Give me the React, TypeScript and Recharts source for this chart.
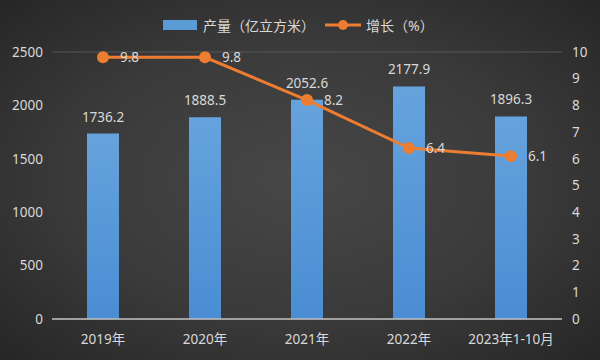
import React from 'react';
import { ComposedChart, Bar, Line, XAxis, YAxis, CartesianGrid, LabelList } from 'recharts';

const categories = ['2019年', '2020年', '2021年', '2022年', '2023年1-10月'];
const output = [1736.2, 1888.5, 2052.6, 2177.9, 1896.3];
const growth = [9.8, 9.8, 8.2, 6.4, 6.1];
const leftTicks = [0, 500, 1000, 1500, 2000, 2500];
const rightTicks = [0, 1, 2, 3, 4, 5, 6, 7, 8, 9, 10];

const data = categories.map((c, i) => ({ name: c, output: output[i], growth: growth[i] }));

const FONT = '"Microsoft YaHei", "Noto Sans", "Noto Sans CJK SC", sans-serif';
const TXT = '#d9d9d9';

const LegendBox = () => (
  <div style={{ position: 'absolute', left: 163, top: 15, display: 'flex', alignItems: 'center', fontFamily: FONT, fontSize: 14, color: TXT, zIndex: 2, whiteSpace: 'nowrap' }}>
    <span style={{ display: 'inline-block', width: 34, height: 10, background: '#5b9bd5', marginRight: 6 }} />
    <span style={{ marginRight: 10 }}>产量（亿立方米）</span>
    <svg width={36} height={12} style={{ marginRight: 5 }}>
      <line x1={0} y1={6} x2={36} y2={6} stroke="#ed7d31" strokeWidth={3} />
      <circle cx={18} cy={6} r={5} fill="#ed7d31" />
    </svg>
    <span>增长（%）</span>
  </div>
);

export default function App() {
  return (
    <div style={{ position: 'absolute', left: 0, top: 0, width: 600, height: 360, background: 'radial-gradient(ellipse at 50% 50%, #474747 0%, #3a3a3a 55%, #262626 100%)' }}>
      <LegendBox />
      <ComposedChart width={600} height={360} data={data} margin={{ top: 52, right: 0, bottom: 11, left: 0 }} barCategoryGap="34%">
        <defs>
          <linearGradient id="barGrad" x1="0" y1="0" x2="0" y2="1">
            <stop offset="0%" stopColor="#66a3dd" />
            <stop offset="100%" stopColor="#4a8dd3" />
          </linearGradient>
        </defs>
        <CartesianGrid vertical={false} stroke="#575757" strokeWidth={1} />
        <XAxis dataKey="name" height={30} tickLine={false} axisLine={{ stroke: '#bfbfbf', strokeWidth: 1.5 }} tick={{ fill: TXT, fontSize: 13.5, fontFamily: FONT }} tickMargin={9} interval={0} />
        <YAxis yAxisId="left" orientation="left" width={52} domain={[0, 2500]} ticks={leftTicks} axisLine={false} tickLine={false} tickSize={0} tickMargin={9} tick={{ fill: TXT, fontSize: 13.5, fontFamily: FONT }} />
        <YAxis yAxisId="right" orientation="right" width={38} domain={[0, 10]} ticks={rightTicks} axisLine={false} tickLine={false} tickSize={0} tickMargin={10} tick={{ fill: TXT, fontSize: 13.5, fontFamily: FONT, textAnchor: 'start' }} />
        <Bar yAxisId="left" dataKey="output" fill="url(#barGrad)" barSize={32} isAnimationActive={false}>
          <LabelList dataKey="output" position="top" offset={12} fill={TXT} fontSize={13.5} fontFamily={FONT} formatter={(v: number) => v.toFixed(1)} />
        </Bar>
        <Line yAxisId="right" dataKey="growth" stroke="#ed7d31" strokeWidth={3} dot={{ r: 6, fill: '#ed7d31', stroke: '#ed7d31', strokeWidth: 0 }} isAnimationActive={false}>
          <LabelList dataKey="growth" position="right" offset={17} fill={TXT} fontSize={13.5} fontFamily={FONT} formatter={(v: number) => v.toFixed(1)} />
        </Line>
      </ComposedChart>
    </div>
  );
}
